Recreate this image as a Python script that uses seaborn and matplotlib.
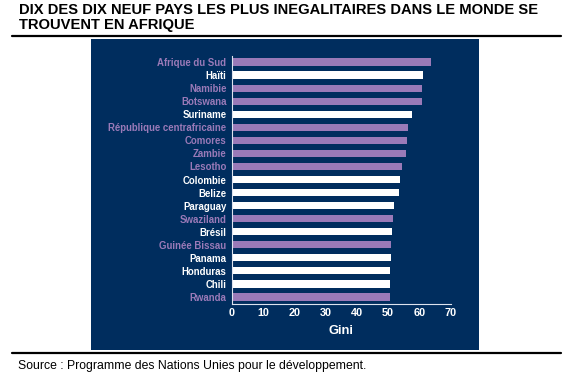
import matplotlib
matplotlib.use("Agg")
import matplotlib.pyplot as plt
from matplotlib.patches import Rectangle
import seaborn as sb
import pandas as pd

# Données (coefficient de Gini)
pays = ["Afrique du Sud", "Haïti", "Namibie", "Botswana", "Suriname",
        "République centrafricaine", "Comores", "Zambie", "Lesotho", "Colombie",
        "Belize", "Paraguay", "Swaziland", "Brésil", "Guinée Bissau",
        "Panama", "Honduras", "Chili", "Rwanda"]
gini = [63.7, 61.2, 60.9, 60.9, 57.7, 56.4, 56.1, 55.7, 54.5, 53.8,
        53.5, 51.9, 51.6, 51.3, 50.9, 50.9, 50.6, 50.6, 50.5]
afrique = [True, False, True, True, False, True, True, True, True, False,
           False, False, True, False, True, False, False, False, True]
ticks_x = [0, 10, 20, 30, 40, 50, 60, 70]

NAVY = "#002d5e"
VIOLET = "#9a7ab8"
BLANC = "#ffffff"

df = pd.DataFrame({"pays": pays, "gini": gini,
                   "zone": ["Afrique" if a else "Autre" for a in afrique]})

sb.set_style("white")
plt.rcParams["font.family"] = ["Liberation Sans", "DejaVu Sans"]

fig = plt.figure(figsize=(5.8, 3.81), dpi=100)
W, H = 580, 381

# Fond bleu du panneau (derrière les axes)
fig.patches.append(Rectangle((91 / W, 1 - 350 / H), (479 - 91) / W, (350 - 39) / H,
                             transform=fig.transFigure, facecolor=NAVY,
                             edgecolor="none", zorder=-10))

ax = fig.add_axes([232 / W, 1 - 303.5 / H, (450.7 - 232) / W, (303.5 - 55.5) / H])
ax.set_facecolor("none")
ax.set_zorder(5)

sb.barplot(data=df, x="gini", y="pays", hue="zone", orient="h",
           palette={"Afrique": VIOLET, "Autre": BLANC}, dodge=False,
           width=0.55, legend=False, ax=ax, saturation=1, linewidth=0)

ax.set_xlim(0, 70)
ax.set_ylim(18.5, -0.5)
ax.set_xticks(ticks_x)
ax.set_xticklabels([str(t) for t in ticks_x], fontsize=7.8, fontweight="bold", color=BLANC)
ax.tick_params(axis="x", direction="in", length=5, width=0.8, color="#dde3ee", pad=3)
ax.tick_params(axis="y", length=0, pad=4)
for lab, a in zip(ax.get_yticklabels(), afrique):
    lab.set_color(VIOLET if a else BLANC)
    lab.set_fontweight("bold")
    lab.set_fontsize(6.9)

ax.set_ylabel("")
ax.set_xlabel("Gini", fontsize=9.3, fontweight="bold", color=BLANC, labelpad=5)
for s in ["top", "right"]:
    ax.spines[s].set_visible(False)
for s in ["left", "bottom"]:
    ax.spines[s].set_color("#dde3ee")
    ax.spines[s].set_linewidth(0.8)

# Titre, filets et source
fig.text(19 / W, 1 - 10 / H, "DIX DES DIX NEUF PAYS LES PLUS INEGALITAIRES DANS LE MONDE SE",
         fontsize=10.6, fontweight="bold", va="center", ha="left", color="black")
fig.text(19 / W, 1 - 25 / H, "TROUVENT EN AFRIQUE",
         fontsize=10.6, fontweight="bold", va="center", ha="left", color="black")
fig.add_artist(plt.Line2D([12 / W, 561 / W], [1 - 36 / H, 1 - 36 / H],
                          color="black", linewidth=1.6, transform=fig.transFigure))
fig.add_artist(plt.Line2D([12 / W, 561 / W], [1 - 352.5 / H, 1 - 352.5 / H],
                          color="black", linewidth=1.6, transform=fig.transFigure))
fig.text(18 / W, 1 - 366 / H, "Source : Programme des Nations Unies pour le développement.",
         fontsize=8.8, va="center", ha="left", color="black")

fig.savefig("out.png", dpi=100)
